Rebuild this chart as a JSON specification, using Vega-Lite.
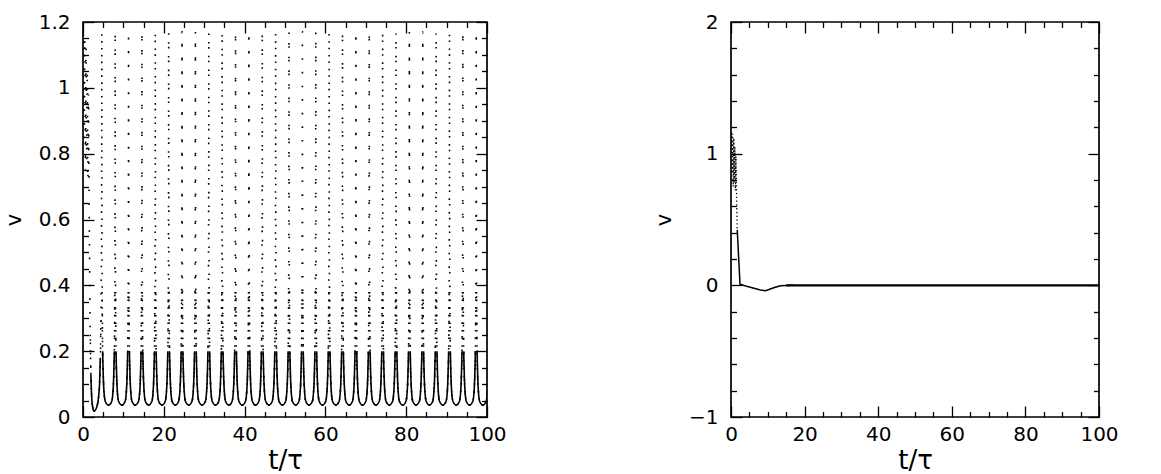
{
"$schema": "https://vega.github.io/schema/vega-lite/v6.json",
"padding": {"left": 2, "top": 11, "right": 5, "bottom": 2},
"bounds": "flush",
"spacing": 244,
"config": {
 "view": {"stroke": "black", "strokeWidth": 1.7},
 "axis": {"labelFont": "DejaVu Sans", "labelFontSize": 20, "labelColor": "black", "titleFont": "DejaVu Sans", "titleFontSize": 26, "titleFontWeight": "normal", "titleColor": "black", "tickColor": "black", "tickWidth": 1.3, "domain": false, "grid": false, "labelFlush": false, "labelOverlap": false, "labelBound": false}
},
"datasets": {
 "left": [
{"t":0,"v":0.95,"k":0},{"t":0.15,"v":1.17,"k":0},{"t":0.3,"v":0.85,"k":0},{"t":0.45,"v":1.15,"k":0},{"t":0.6,"v":0.75,"k":0},{"t":0.75,"v":1.12,"k":0},{"t":0.9,"v":0.78,"k":0},{"t":1.05,"v":1.05,"k":0},{"t":1.2,"v":0.72,"k":0},{"t":1.35,"v":0.98,"k":0},{"t":1.5,"v":0.7,"k":0},{"t":1.65,"v":0.45,"k":0},{"t":1.8,"v":0.25,"k":0},{"t":1.95,"v":0.13,"k":0},{"t":2.15,"v":0.06,"k":0},{"t":2.4,"v":0.03,"k":0},{"t":2.7,"v":0.018,"k":0},{"t":3.0,"v":0.02,"k":0},{"t":3.4,"v":0.03,"k":0},{"t":3.8,"v":0.055,"k":0},{"t":4.1,"v":0.1,"k":0},{"t":4.3,"v":0.18,"k":0},{"t":4.45,"v":0.3,"k":0},{"t":4.55,"v":0.5,"k":0},{"t":4.61,"v":0.75,"k":0},{"t":4.645,"v":1.0,"k":0},{"t":4.655,"v":1.17,"k":0},
{"t":4.662,"v":1.0,"k":1},{"t":4.69,"v":0.7,"k":1},{"t":4.75,"v":0.38,"k":1},{"t":4.86,"v":0.2,"k":1},{"t":5.11,"v":0.095,"k":1},{"t":5.51,"v":0.047,"k":1},{"t":6.31,"v":0.036,"k":1},{"t":7.11,"v":0.047,"k":1},{"t":7.51,"v":0.095,"k":1},{"t":7.76,"v":0.2,"k":1},{"t":7.87,"v":0.38,"k":1},{"t":7.93,"v":0.7,"k":1},{"t":7.958,"v":1.0,"k":1},{"t":7.965,"v":1.17,"k":1},
{"t":7.972,"v":1.0,"k":2},{"t":8.0,"v":0.7,"k":2},{"t":8.06,"v":0.38,"k":2},{"t":8.17,"v":0.2,"k":2},{"t":8.42,"v":0.095,"k":2},{"t":8.82,"v":0.047,"k":2},{"t":9.62,"v":0.036,"k":2},{"t":10.42,"v":0.047,"k":2},{"t":10.82,"v":0.095,"k":2},{"t":11.07,"v":0.2,"k":2},{"t":11.18,"v":0.38,"k":2},{"t":11.24,"v":0.7,"k":2},{"t":11.268,"v":1.0,"k":2},{"t":11.275,"v":1.17,"k":2},
{"t":11.282,"v":1.0,"k":3},{"t":11.31,"v":0.7,"k":3},{"t":11.37,"v":0.38,"k":3},{"t":11.48,"v":0.2,"k":3},{"t":11.73,"v":0.095,"k":3},{"t":12.13,"v":0.047,"k":3},{"t":12.93,"v":0.036,"k":3},{"t":13.73,"v":0.047,"k":3},{"t":14.13,"v":0.095,"k":3},{"t":14.38,"v":0.2,"k":3},{"t":14.49,"v":0.38,"k":3},{"t":14.55,"v":0.7,"k":3},{"t":14.578,"v":1.0,"k":3},{"t":14.585,"v":1.17,"k":3},
{"t":14.592,"v":1.0,"k":4},{"t":14.62,"v":0.7,"k":4},{"t":14.68,"v":0.38,"k":4},{"t":14.79,"v":0.2,"k":4},{"t":15.04,"v":0.095,"k":4},{"t":15.44,"v":0.047,"k":4},{"t":16.24,"v":0.036,"k":4},{"t":17.04,"v":0.047,"k":4},{"t":17.44,"v":0.095,"k":4},{"t":17.69,"v":0.2,"k":4},{"t":17.8,"v":0.38,"k":4},{"t":17.86,"v":0.7,"k":4},{"t":17.888,"v":1.0,"k":4},{"t":17.895,"v":1.17,"k":4},
{"t":17.902,"v":1.0,"k":5},{"t":17.93,"v":0.7,"k":5},{"t":17.99,"v":0.38,"k":5},{"t":18.1,"v":0.2,"k":5},{"t":18.35,"v":0.095,"k":5},{"t":18.75,"v":0.047,"k":5},{"t":19.55,"v":0.036,"k":5},{"t":20.35,"v":0.047,"k":5},{"t":20.75,"v":0.095,"k":5},{"t":21.0,"v":0.2,"k":5},{"t":21.11,"v":0.38,"k":5},{"t":21.17,"v":0.7,"k":5},{"t":21.198,"v":1.0,"k":5},{"t":21.205,"v":1.17,"k":5},
{"t":21.212,"v":1.0,"k":6},{"t":21.24,"v":0.7,"k":6},{"t":21.3,"v":0.38,"k":6},{"t":21.41,"v":0.2,"k":6},{"t":21.66,"v":0.095,"k":6},{"t":22.06,"v":0.047,"k":6},{"t":22.86,"v":0.036,"k":6},{"t":23.66,"v":0.047,"k":6},{"t":24.06,"v":0.095,"k":6},{"t":24.31,"v":0.2,"k":6},{"t":24.42,"v":0.38,"k":6},{"t":24.48,"v":0.7,"k":6},{"t":24.508,"v":1.0,"k":6},{"t":24.515,"v":1.17,"k":6},
{"t":24.522,"v":1.0,"k":7},{"t":24.55,"v":0.7,"k":7},{"t":24.61,"v":0.38,"k":7},{"t":24.72,"v":0.2,"k":7},{"t":24.97,"v":0.095,"k":7},{"t":25.37,"v":0.047,"k":7},{"t":26.17,"v":0.036,"k":7},{"t":26.97,"v":0.047,"k":7},{"t":27.37,"v":0.095,"k":7},{"t":27.62,"v":0.2,"k":7},{"t":27.73,"v":0.38,"k":7},{"t":27.79,"v":0.7,"k":7},{"t":27.818,"v":1.0,"k":7},{"t":27.825,"v":1.17,"k":7},
{"t":27.832,"v":1.0,"k":8},{"t":27.86,"v":0.7,"k":8},{"t":27.92,"v":0.38,"k":8},{"t":28.03,"v":0.2,"k":8},{"t":28.28,"v":0.095,"k":8},{"t":28.68,"v":0.047,"k":8},{"t":29.48,"v":0.036,"k":8},{"t":30.28,"v":0.047,"k":8},{"t":30.68,"v":0.095,"k":8},{"t":30.93,"v":0.2,"k":8},{"t":31.04,"v":0.38,"k":8},{"t":31.1,"v":0.7,"k":8},{"t":31.128,"v":1.0,"k":8},{"t":31.135,"v":1.17,"k":8},
{"t":31.142,"v":1.0,"k":9},{"t":31.17,"v":0.7,"k":9},{"t":31.23,"v":0.38,"k":9},{"t":31.34,"v":0.2,"k":9},{"t":31.59,"v":0.095,"k":9},{"t":31.99,"v":0.047,"k":9},{"t":32.79,"v":0.036,"k":9},{"t":33.59,"v":0.047,"k":9},{"t":33.99,"v":0.095,"k":9},{"t":34.24,"v":0.2,"k":9},{"t":34.35,"v":0.38,"k":9},{"t":34.41,"v":0.7,"k":9},{"t":34.438,"v":1.0,"k":9},{"t":34.445,"v":1.17,"k":9},
{"t":34.452,"v":1.0,"k":10},{"t":34.48,"v":0.7,"k":10},{"t":34.54,"v":0.38,"k":10},{"t":34.65,"v":0.2,"k":10},{"t":34.9,"v":0.095,"k":10},{"t":35.3,"v":0.047,"k":10},{"t":36.1,"v":0.036,"k":10},{"t":36.9,"v":0.047,"k":10},{"t":37.3,"v":0.095,"k":10},{"t":37.55,"v":0.2,"k":10},{"t":37.66,"v":0.38,"k":10},{"t":37.72,"v":0.7,"k":10},{"t":37.748,"v":1.0,"k":10},{"t":37.755,"v":1.17,"k":10},
{"t":37.762,"v":1.0,"k":11},{"t":37.79,"v":0.7,"k":11},{"t":37.85,"v":0.38,"k":11},{"t":37.96,"v":0.2,"k":11},{"t":38.21,"v":0.095,"k":11},{"t":38.61,"v":0.047,"k":11},{"t":39.41,"v":0.036,"k":11},{"t":40.21,"v":0.047,"k":11},{"t":40.61,"v":0.095,"k":11},{"t":40.86,"v":0.2,"k":11},{"t":40.97,"v":0.38,"k":11},{"t":41.03,"v":0.7,"k":11},{"t":41.058,"v":1.0,"k":11},{"t":41.065,"v":1.17,"k":11},
{"t":41.072,"v":1.0,"k":12},{"t":41.1,"v":0.7,"k":12},{"t":41.16,"v":0.38,"k":12},{"t":41.27,"v":0.2,"k":12},{"t":41.52,"v":0.095,"k":12},{"t":41.92,"v":0.047,"k":12},{"t":42.72,"v":0.036,"k":12},{"t":43.52,"v":0.047,"k":12},{"t":43.92,"v":0.095,"k":12},{"t":44.17,"v":0.2,"k":12},{"t":44.28,"v":0.38,"k":12},{"t":44.34,"v":0.7,"k":12},{"t":44.368,"v":1.0,"k":12},{"t":44.375,"v":1.17,"k":12},
{"t":44.382,"v":1.0,"k":13},{"t":44.41,"v":0.7,"k":13},{"t":44.47,"v":0.38,"k":13},{"t":44.58,"v":0.2,"k":13},{"t":44.83,"v":0.095,"k":13},{"t":45.23,"v":0.047,"k":13},{"t":46.03,"v":0.036,"k":13},{"t":46.83,"v":0.047,"k":13},{"t":47.23,"v":0.095,"k":13},{"t":47.48,"v":0.2,"k":13},{"t":47.59,"v":0.38,"k":13},{"t":47.65,"v":0.7,"k":13},{"t":47.678,"v":1.0,"k":13},{"t":47.685,"v":1.17,"k":13},
{"t":47.692,"v":1.0,"k":14},{"t":47.72,"v":0.7,"k":14},{"t":47.78,"v":0.38,"k":14},{"t":47.89,"v":0.2,"k":14},{"t":48.14,"v":0.095,"k":14},{"t":48.54,"v":0.047,"k":14},{"t":49.34,"v":0.036,"k":14},{"t":50.14,"v":0.047,"k":14},{"t":50.54,"v":0.095,"k":14},{"t":50.79,"v":0.2,"k":14},{"t":50.9,"v":0.38,"k":14},{"t":50.96,"v":0.7,"k":14},{"t":50.988,"v":1.0,"k":14},{"t":50.995,"v":1.17,"k":14},
{"t":51.002,"v":1.0,"k":15},{"t":51.03,"v":0.7,"k":15},{"t":51.09,"v":0.38,"k":15},{"t":51.2,"v":0.2,"k":15},{"t":51.45,"v":0.095,"k":15},{"t":51.85,"v":0.047,"k":15},{"t":52.65,"v":0.036,"k":15},{"t":53.45,"v":0.047,"k":15},{"t":53.85,"v":0.095,"k":15},{"t":54.1,"v":0.2,"k":15},{"t":54.21,"v":0.38,"k":15},{"t":54.27,"v":0.7,"k":15},{"t":54.298,"v":1.0,"k":15},{"t":54.305,"v":1.17,"k":15},
{"t":54.312,"v":1.0,"k":16},{"t":54.34,"v":0.7,"k":16},{"t":54.4,"v":0.38,"k":16},{"t":54.51,"v":0.2,"k":16},{"t":54.76,"v":0.095,"k":16},{"t":55.16,"v":0.047,"k":16},{"t":55.96,"v":0.036,"k":16},{"t":56.76,"v":0.047,"k":16},{"t":57.16,"v":0.095,"k":16},{"t":57.41,"v":0.2,"k":16},{"t":57.52,"v":0.38,"k":16},{"t":57.58,"v":0.7,"k":16},{"t":57.608,"v":1.0,"k":16},{"t":57.615,"v":1.17,"k":16},
{"t":57.622,"v":1.0,"k":17},{"t":57.65,"v":0.7,"k":17},{"t":57.71,"v":0.38,"k":17},{"t":57.82,"v":0.2,"k":17},{"t":58.07,"v":0.095,"k":17},{"t":58.47,"v":0.047,"k":17},{"t":59.27,"v":0.036,"k":17},{"t":60.07,"v":0.047,"k":17},{"t":60.47,"v":0.095,"k":17},{"t":60.72,"v":0.2,"k":17},{"t":60.83,"v":0.38,"k":17},{"t":60.89,"v":0.7,"k":17},{"t":60.918,"v":1.0,"k":17},{"t":60.925,"v":1.17,"k":17},
{"t":60.932,"v":1.0,"k":18},{"t":60.96,"v":0.7,"k":18},{"t":61.02,"v":0.38,"k":18},{"t":61.13,"v":0.2,"k":18},{"t":61.38,"v":0.095,"k":18},{"t":61.78,"v":0.047,"k":18},{"t":62.58,"v":0.036,"k":18},{"t":63.38,"v":0.047,"k":18},{"t":63.78,"v":0.095,"k":18},{"t":64.03,"v":0.2,"k":18},{"t":64.14,"v":0.38,"k":18},{"t":64.2,"v":0.7,"k":18},{"t":64.228,"v":1.0,"k":18},{"t":64.235,"v":1.17,"k":18},
{"t":64.242,"v":1.0,"k":19},{"t":64.27,"v":0.7,"k":19},{"t":64.33,"v":0.38,"k":19},{"t":64.44,"v":0.2,"k":19},{"t":64.69,"v":0.095,"k":19},{"t":65.09,"v":0.047,"k":19},{"t":65.89,"v":0.036,"k":19},{"t":66.69,"v":0.047,"k":19},{"t":67.09,"v":0.095,"k":19},{"t":67.34,"v":0.2,"k":19},{"t":67.45,"v":0.38,"k":19},{"t":67.51,"v":0.7,"k":19},{"t":67.538,"v":1.0,"k":19},{"t":67.545,"v":1.17,"k":19},
{"t":67.552,"v":1.0,"k":20},{"t":67.58,"v":0.7,"k":20},{"t":67.64,"v":0.38,"k":20},{"t":67.75,"v":0.2,"k":20},{"t":68.0,"v":0.095,"k":20},{"t":68.4,"v":0.047,"k":20},{"t":69.2,"v":0.036,"k":20},{"t":70.0,"v":0.047,"k":20},{"t":70.4,"v":0.095,"k":20},{"t":70.65,"v":0.2,"k":20},{"t":70.76,"v":0.38,"k":20},{"t":70.82,"v":0.7,"k":20},{"t":70.848,"v":1.0,"k":20},{"t":70.855,"v":1.17,"k":20},
{"t":70.862,"v":1.0,"k":21},{"t":70.89,"v":0.7,"k":21},{"t":70.95,"v":0.38,"k":21},{"t":71.06,"v":0.2,"k":21},{"t":71.31,"v":0.095,"k":21},{"t":71.71,"v":0.047,"k":21},{"t":72.51,"v":0.036,"k":21},{"t":73.31,"v":0.047,"k":21},{"t":73.71,"v":0.095,"k":21},{"t":73.96,"v":0.2,"k":21},{"t":74.07,"v":0.38,"k":21},{"t":74.13,"v":0.7,"k":21},{"t":74.158,"v":1.0,"k":21},{"t":74.165,"v":1.17,"k":21},
{"t":74.172,"v":1.0,"k":22},{"t":74.2,"v":0.7,"k":22},{"t":74.26,"v":0.38,"k":22},{"t":74.37,"v":0.2,"k":22},{"t":74.62,"v":0.095,"k":22},{"t":75.02,"v":0.047,"k":22},{"t":75.82,"v":0.036,"k":22},{"t":76.62,"v":0.047,"k":22},{"t":77.02,"v":0.095,"k":22},{"t":77.27,"v":0.2,"k":22},{"t":77.38,"v":0.38,"k":22},{"t":77.44,"v":0.7,"k":22},{"t":77.468,"v":1.0,"k":22},{"t":77.475,"v":1.17,"k":22},
{"t":77.482,"v":1.0,"k":23},{"t":77.51,"v":0.7,"k":23},{"t":77.57,"v":0.38,"k":23},{"t":77.68,"v":0.2,"k":23},{"t":77.93,"v":0.095,"k":23},{"t":78.33,"v":0.047,"k":23},{"t":79.13,"v":0.036,"k":23},{"t":79.93,"v":0.047,"k":23},{"t":80.33,"v":0.095,"k":23},{"t":80.58,"v":0.2,"k":23},{"t":80.69,"v":0.38,"k":23},{"t":80.75,"v":0.7,"k":23},{"t":80.778,"v":1.0,"k":23},{"t":80.785,"v":1.17,"k":23},
{"t":80.792,"v":1.0,"k":24},{"t":80.82,"v":0.7,"k":24},{"t":80.88,"v":0.38,"k":24},{"t":80.99,"v":0.2,"k":24},{"t":81.24,"v":0.095,"k":24},{"t":81.64,"v":0.047,"k":24},{"t":82.44,"v":0.036,"k":24},{"t":83.24,"v":0.047,"k":24},{"t":83.64,"v":0.095,"k":24},{"t":83.89,"v":0.2,"k":24},{"t":84.0,"v":0.38,"k":24},{"t":84.06,"v":0.7,"k":24},{"t":84.088,"v":1.0,"k":24},{"t":84.095,"v":1.17,"k":24},
{"t":84.102,"v":1.0,"k":25},{"t":84.13,"v":0.7,"k":25},{"t":84.19,"v":0.38,"k":25},{"t":84.3,"v":0.2,"k":25},{"t":84.55,"v":0.095,"k":25},{"t":84.95,"v":0.047,"k":25},{"t":85.75,"v":0.036,"k":25},{"t":86.55,"v":0.047,"k":25},{"t":86.95,"v":0.095,"k":25},{"t":87.2,"v":0.2,"k":25},{"t":87.31,"v":0.38,"k":25},{"t":87.37,"v":0.7,"k":25},{"t":87.398,"v":1.0,"k":25},{"t":87.405,"v":1.17,"k":25},
{"t":87.412,"v":1.0,"k":26},{"t":87.44,"v":0.7,"k":26},{"t":87.5,"v":0.38,"k":26},{"t":87.61,"v":0.2,"k":26},{"t":87.86,"v":0.095,"k":26},{"t":88.26,"v":0.047,"k":26},{"t":89.06,"v":0.036,"k":26},{"t":89.86,"v":0.047,"k":26},{"t":90.26,"v":0.095,"k":26},{"t":90.51,"v":0.2,"k":26},{"t":90.62,"v":0.38,"k":26},{"t":90.68,"v":0.7,"k":26},{"t":90.708,"v":1.0,"k":26},{"t":90.715,"v":1.17,"k":26},
{"t":90.722,"v":1.0,"k":27},{"t":90.75,"v":0.7,"k":27},{"t":90.81,"v":0.38,"k":27},{"t":90.92,"v":0.2,"k":27},{"t":91.17,"v":0.095,"k":27},{"t":91.57,"v":0.047,"k":27},{"t":92.37,"v":0.036,"k":27},{"t":93.17,"v":0.047,"k":27},{"t":93.57,"v":0.095,"k":27},{"t":93.82,"v":0.2,"k":27},{"t":93.93,"v":0.38,"k":27},{"t":93.99,"v":0.7,"k":27},{"t":94.018,"v":1.0,"k":27},{"t":94.025,"v":1.17,"k":27},
{"t":94.032,"v":1.0,"k":28},{"t":94.06,"v":0.7,"k":28},{"t":94.12,"v":0.38,"k":28},{"t":94.23,"v":0.2,"k":28},{"t":94.48,"v":0.095,"k":28},{"t":94.88,"v":0.047,"k":28},{"t":95.68,"v":0.036,"k":28},{"t":96.48,"v":0.047,"k":28},{"t":96.88,"v":0.095,"k":28},{"t":97.13,"v":0.2,"k":28},{"t":97.24,"v":0.38,"k":28},{"t":97.3,"v":0.7,"k":28},{"t":97.328,"v":1.0,"k":28},{"t":97.335,"v":1.17,"k":28},
{"t":97.342,"v":1.0,"k":29},{"t":97.37,"v":0.7,"k":29},{"t":97.43,"v":0.38,"k":29},{"t":97.54,"v":0.2,"k":29},{"t":97.79,"v":0.095,"k":29},{"t":98.19,"v":0.047,"k":29},{"t":98.99,"v":0.036,"k":29},{"t":99.79,"v":0.047,"k":29},{"t":100.19,"v":0.095,"k":29},{"t":100.44,"v":0.2,"k":29},{"t":100.55,"v":0.38,"k":29},{"t":100.61,"v":0.7,"k":29},{"t":100.638,"v":1.0,"k":29},{"t":100.645,"v":1.17,"k":29}
 ],
 "right": [
{"t":0,"v":0.95},{"t":0.15,"v":1.17},{"t":0.3,"v":0.85},{"t":0.45,"v":1.15},{"t":0.6,"v":0.75},{"t":0.75,"v":1.12},{"t":0.9,"v":0.78},{"t":1.05,"v":1.05},{"t":1.2,"v":0.72},{"t":1.35,"v":0.98},{"t":1.5,"v":0.7},{"t":1.7,"v":0.42},{"t":2.45,"v":0.008},{"t":4,"v":-0.005},{"t":6,"v":-0.02},{"t":8,"v":-0.035},{"t":9.4,"v":-0.041},{"t":10.5,"v":-0.03},{"t":12,"v":-0.014},{"t":13.5,"v":-0.004},{"t":15,"v":-0.001},{"t":17,"v":0},{"t":30,"v":0},{"t":50,"v":0},{"t":70,"v":0},{"t":100,"v":0}
 ]
},
"hconcat": [
 {
  "width": 404, "height": 395,
  "data": {"name": "left"},
  "layer": [
   {"mark": {"type": "line", "interpolate": "monotone", "strokeDash": [1.6, 12], "strokeWidth": 1.6, "color": "black", "clip": true},
    "encoding": {
     "x": {"field": "t", "type": "quantitative", "scale": {"domain": [0, 100], "nice": false, "zero": false},
      "axis": {"orient": "bottom", "values": [0, 20, 40, 60, 80, 100], "tickSize": -11, "labelPadding": 18, "title": "t/τ", "titlePadding": 3}},
     "y": {"field": "v", "type": "quantitative", "scale": {"domain": [0, 1.2], "nice": false},
      "axis": {"orient": "left", "values": [0, 0.2, 0.4, 0.6, 0.8, 1, 1.2], "format": "~g", "tickSize": -11, "labelPadding": 24, "title": "v", "titleFontSize": 21, "titlePadding": 14}}
    }},
   {"transform": [{"filter": "datum.v <= 0.2"}],
    "mark": {"type": "line", "interpolate": "monotone", "strokeWidth": 1.6, "color": "black", "clip": true},
    "encoding": {
     "x": {"field": "t", "type": "quantitative", "axis": {"orient": "bottom", "values": [5, 10, 15, 25, 30, 35, 45, 50, 55, 65, 70, 75, 85, 90, 95], "tickSize": -5.5, "labels": false, "title": null}},
     "y": {"field": "v", "type": "quantitative", "axis": {"orient": "left", "values": [0.05, 0.1, 0.15, 0.25, 0.3, 0.35, 0.45, 0.5, 0.55, 0.65, 0.7, 0.75, 0.85, 0.9, 0.95, 1.05, 1.1, 1.15], "tickSize": -5.5, "labels": false, "title": null}},
     "detail": {"field": "k", "type": "nominal"}
    }},
   {"transform": [{"filter": "datum.v <= 0.38"}],
    "mark": {"type": "line", "interpolate": "monotone", "strokeDash": [1.6, 6], "strokeWidth": 1.5, "color": "black", "clip": true},
    "encoding": {
     "x": {"field": "t", "type": "quantitative", "axis": {"orient": "top", "values": [0, 20, 40, 60, 80, 100], "tickSize": -11, "labels": false, "title": null}},
     "y": {"field": "v", "type": "quantitative", "axis": {"orient": "right", "values": [0, 0.2, 0.4, 0.6, 0.8, 1, 1.2], "tickSize": -11, "labels": false, "title": null}},
     "detail": {"field": "k", "type": "nominal"}
    }},
   {"mark": {"type": "point", "opacity": 0},
    "encoding": {
     "x": {"field": "t", "type": "quantitative", "axis": {"orient": "top", "values": [5, 10, 15, 25, 30, 35, 45, 50, 55, 65, 70, 75, 85, 90, 95], "tickSize": -5.5, "labels": false, "title": null}},
     "y": {"field": "v", "type": "quantitative", "axis": {"orient": "right", "values": [0.05, 0.1, 0.15, 0.25, 0.3, 0.35, 0.45, 0.5, 0.55, 0.65, 0.7, 0.75, 0.85, 0.9, 0.95, 1.05, 1.1, 1.15], "tickSize": -5.5, "labels": false, "title": null}}
    }}
  ],
  "resolve": {"axis": {"x": "independent", "y": "independent"}}
 },
 {
  "width": 368, "height": 395,
  "data": {"name": "right"},
  "layer": [
   {"transform": [{"filter": "datum.t <= 1.7"}],
    "mark": {"type": "line", "strokeDash": [1.3, 2.5], "strokeWidth": 1.3, "color": "black", "clip": true},
    "encoding": {
     "x": {"field": "t", "type": "quantitative", "scale": {"domain": [0, 100], "nice": false, "zero": false},
      "axis": {"orient": "bottom", "values": [0, 20, 40, 60, 80, 100], "tickSize": -11, "labelPadding": 18, "title": "t/τ", "titlePadding": 3}},
     "y": {"field": "v", "type": "quantitative", "scale": {"domain": [-1, 2], "nice": false},
      "axis": {"orient": "left", "values": [-1, 0, 1, 2], "format": "~g", "tickSize": -11, "labelPadding": 24, "title": "v", "titleFontSize": 21, "titlePadding": 14}}
    }},
   {"transform": [{"filter": "datum.t >= 1.7 && datum.t <= 17"}],
    "mark": {"type": "line", "strokeWidth": 1.5, "color": "black", "clip": true},
    "encoding": {
     "x": {"field": "t", "type": "quantitative", "axis": {"orient": "bottom", "values": [5, 10, 15, 25, 30, 35, 45, 50, 55, 65, 70, 75, 85, 90, 95], "tickSize": -5.5, "labels": false, "title": null}},
     "y": {"field": "v", "type": "quantitative", "axis": {"orient": "left", "values": [-0.8, -0.6, -0.4, -0.2, 0.2, 0.4, 0.6, 0.8, 1.2, 1.4, 1.6, 1.8], "tickSize": -5.5, "labels": false, "title": null}}
    }},
   {"transform": [{"filter": "datum.t >= 15"}],
    "mark": {"type": "line", "strokeWidth": 2.2, "color": "black", "clip": true},
    "encoding": {
     "x": {"field": "t", "type": "quantitative", "axis": {"orient": "top", "values": [0, 20, 40, 60, 80, 100], "tickSize": -11, "labels": false, "title": null}},
     "y": {"field": "v", "type": "quantitative", "axis": {"orient": "right", "values": [-1, 0, 1, 2], "tickSize": -11, "labels": false, "title": null}}
    }},
   {"mark": {"type": "point", "opacity": 0},
    "encoding": {
     "x": {"field": "t", "type": "quantitative", "axis": {"orient": "top", "values": [5, 10, 15, 25, 30, 35, 45, 50, 55, 65, 70, 75, 85, 90, 95], "tickSize": -5.5, "labels": false, "title": null}},
     "y": {"field": "v", "type": "quantitative", "axis": {"orient": "right", "values": [-0.8, -0.6, -0.4, -0.2, 0.2, 0.4, 0.6, 0.8, 1.2, 1.4, 1.6, 1.8], "tickSize": -5.5, "labels": false, "title": null}}
    }}
  ],
  "resolve": {"axis": {"x": "independent", "y": "independent"}}
 }
]
}
